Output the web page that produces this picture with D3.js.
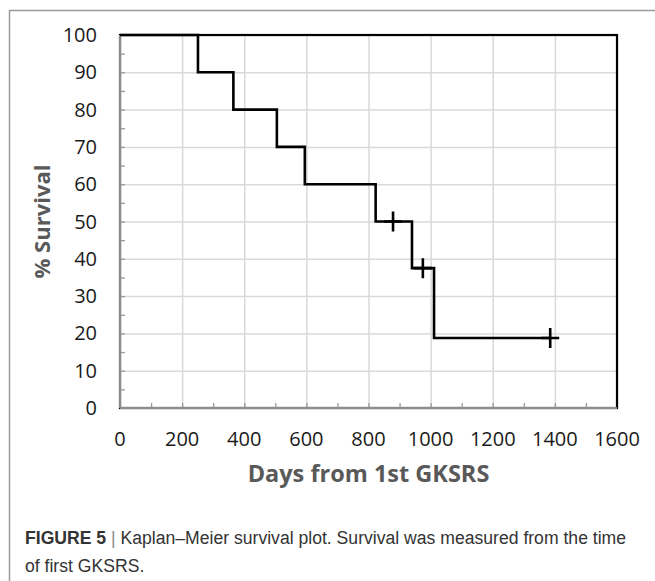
<!DOCTYPE html>
<meta charset="utf-8">
<head>
<style>
body { margin: 0; background: #fff; }
.grid line { stroke: #d9d9d9; stroke-width: 1.5px; }
.grid path { display: none; }
.tick-label { font-family: "Open Sans", Lato, sans-serif; font-size: 20px; fill: #1a1a1a; }
.axis-title { font-family: "Open Sans", sans-serif; font-weight: bold; fill: #595959; }
.km { fill: none; stroke: #000; stroke-width: 2.6px; }
.caption { font-family: "Liberation Sans Narrow", "Liberation Sans", sans-serif; font-size: 17.6px; fill: #333; }
</style>
<script src="https://d3js.org/d3.v7.min.js"></script>
</head>
<body>
<script>

// Kaplan-Meier step curve (days, % survival)
var stepDays     = [0, 251, 365, 505, 595, 823, 940, 1011, 1385];
var stepSurvival = [100, 90, 80, 70, 60, 50, 37.5, 18.75, 18.75];

// censored observations
var censorDays     = [879, 975, 1385];
var censorSurvival = [50, 37.5, 18.75];

// tick values
var xTicks = [0, 200, 400, 600, 800, 1000, 1200, 1400, 1600];
var yTicks = [0, 10, 20, 30, 40, 50, 60, 70, 80, 90, 100];
var xMinor = d3.range(100, 1600, 100);
var yMinor = d3.range(5, 100, 5);

var W = 655, H = 581;
var margin = {top: 35, right: 38, bottom: 173, left: 120};
var width = W - margin.left - margin.right,
    height = H - margin.top - margin.bottom;

var x = d3.scaleLinear().domain([0, 1600]).range([0, width]);
var y = d3.scaleLinear().domain([0, 100]).range([height, 0]);

var svg = d3.select("body").append("svg")
    .attr("width", W)
    .attr("height", H);

// outer figure frame (top + left visible)
svg.append("path")
    .attr("d", "M9.5," + H + "V10.5H" + W)
    .attr("fill", "none")
    .attr("stroke", "#9a9a9a")
    .attr("stroke-width", 1.5);

var g = svg.append("g")
    .attr("transform", "translate(" + margin.left + "," + margin.top + ")");

// gridlines
g.append("g")
    .attr("class", "grid")
    .attr("transform", "translate(0," + height + ")")
    .call(d3.axisBottom(x).tickValues(xTicks).tickSize(-height).tickFormat(""));

g.append("g")
    .attr("class", "grid")
    .call(d3.axisLeft(y).tickValues(yTicks).tickSize(-width).tickFormat(""));

// plot area border (black)
g.append("rect")
    .attr("width", width)
    .attr("height", height)
    .attr("fill", "none")
    .attr("stroke", "#000")
    .attr("stroke-width", 2.2);

// axes in grey, minor ticks inside
var xAxis = g.append("g")
    .attr("transform", "translate(0," + height + ")")
    .call(d3.axisTop(x).tickValues(xMinor).tickSize(5).tickFormat(""));
var yAxis = g.append("g")
    .call(d3.axisRight(y).tickValues(yMinor).tickSize(5).tickFormat(""));
[xAxis, yAxis].forEach(function(a) {
  a.select(".domain").remove();
  a.selectAll("line").attr("stroke", "#9a9a9a").attr("stroke-width", 1.3);
});
g.append("line")
    .attr("x1", 0).attr("x2", width)
    .attr("y1", height).attr("y2", height)
    .attr("stroke", "#8c8c8c").attr("stroke-width", 2);
g.append("line")
    .attr("x1", 0).attr("x2", 0)
    .attr("y1", 0).attr("y2", height)
    .attr("stroke", "#8c8c8c").attr("stroke-width", 2);

// tick labels
g.selectAll(".xlab").data(xTicks).enter().append("text")
    .attr("class", "tick-label")
    .attr("x", function(d) { return x(d); })
    .attr("y", height + 38)
    .attr("text-anchor", "middle")
    .text(function(d) { return d; });

g.selectAll(".ylab").data(yTicks).enter().append("text")
    .attr("class", "tick-label")
    .attr("x", -23)
    .attr("y", function(d) { return y(d) + 7; })
    .attr("text-anchor", "end")
    .text(function(d) { return d; });

// KM curve
var kmData = stepDays.map(function(d, i) { return [d, stepSurvival[i]]; });
var line = d3.line()
    .curve(d3.curveStepAfter)
    .x(function(d) { return x(d[0]); })
    .y(function(d) { return y(d[1]); });

g.append("path")
    .datum(kmData)
    .attr("class", "km")
    .attr("d", line);

// censor marks
var censorData = censorDays.map(function(d, i) { return [d, censorSurvival[i]]; });
g.selectAll(".censor").data(censorData).enter().append("path")
    .attr("class", "km")
    .attr("d", function(d) {
      var cx = x(d[0]), cy = y(d[1]);
      return "M" + (cx - 9) + "," + cy + "H" + (cx + 9) +
             "M" + cx + "," + (cy - 10) + "V" + (cy + 10);
    });

// axis titles
svg.append("text")
    .attr("class", "axis-title")
    .attr("x", margin.left + width / 2)
    .attr("y", 482)
    .attr("text-anchor", "middle")
    .style("font-size", "23.5px")
    .text("Days from 1st GKSRS");

svg.append("text")
    .attr("class", "axis-title")
    .attr("transform", "translate(50," + (margin.top + height / 2) + ") rotate(-90)")
    .attr("text-anchor", "middle")
    .style("font-size", "22px")
    .text("% Survival");

// caption
var cap = svg.append("text")
    .attr("class", "caption")
    .attr("x", 25)
    .attr("y", 544);
cap.append("tspan")
    .attr("font-weight", "bold")
    .text("FIGURE 5");
cap.append("tspan")
    .attr("fill", "#888")
    .text(" | ");
cap.append("tspan")
    .text("Kaplan\u2013Meier survival plot. Survival was measured from the time");

svg.append("text")
    .attr("class", "caption")
    .attr("x", 25)
    .attr("y", 572)
    .text("of first GKSRS.");

</script>
</body>
</html>
